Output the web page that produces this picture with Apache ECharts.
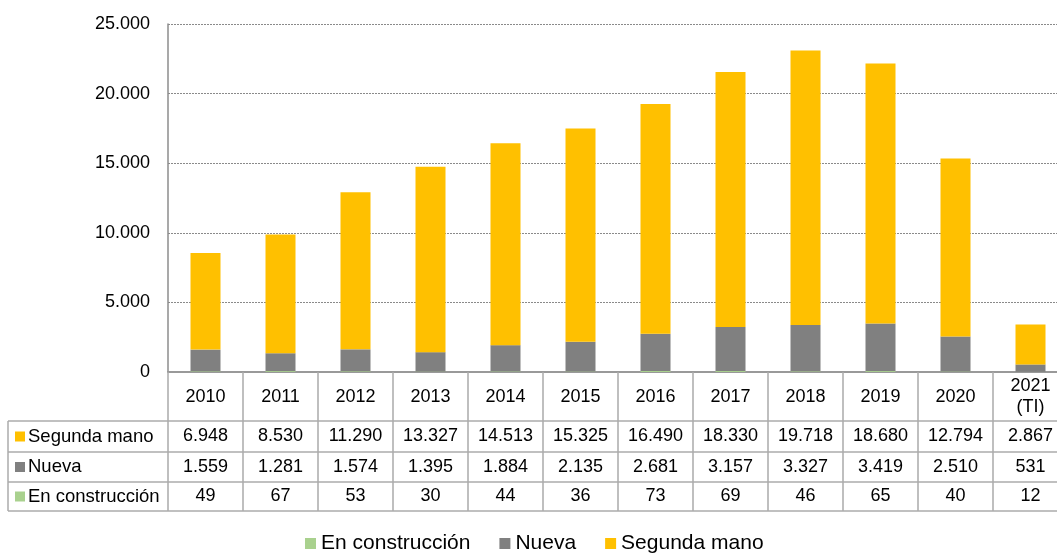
<!DOCTYPE html>
<html>
<head>
<meta charset="utf-8">
<script src="https://cdn.jsdelivr.net/npm/echarts@6/dist/echarts.min.js"></script>
<style>
  html, body { margin: 0; padding: 0; background: #fff; }
  #chart { width: 1057px; height: 554px; }
</style>
</head>
<body>
<div id="chart"></div>
<script>
var years = ['2010', '2011', '2012', '2013', '2014', '2015', '2016', '2017', '2018', '2019', '2020', '2021\n(TI)'];
var segundaMano = [6948, 8530, 11290, 13327, 14513, 15325, 16490, 18330, 19718, 18680, 12794, 2867];
var nueva = [1559, 1281, 1574, 1395, 1884, 2135, 2681, 3157, 3327, 3419, 2510, 531];
var enConstruccion = [49, 67, 53, 30, 44, 36, 73, 69, 46, 65, 40, 12];

var colors = { seg: '#ffc000', nue: '#808080', con: '#a9d18e' };
var font = "'Liberation Sans', Arial, sans-serif";
var lineCol = '#ababab';

function fmt(v) {
    return String(v).replace(/\B(?=(\d{3})+(?!\d))/g, '.');
}

var myChart = echarts.init(document.getElementById('chart'));

// filas de la tabla como ejes extra
function rowAxis(values, offset) {
    return {
        type: 'category',
        data: values.map(fmt),
        position: 'bottom',
        offset: offset,
        axisLine: { show: false },
        axisTick: { show: false },
        axisLabel: {
            interval: 0,
            margin: 0,
            fontSize: 18,
            color: '#000',
            fontFamily: font,
            verticalAlign: 'middle'
        }
    };
}

var rowsY = [421, 452, 482, 511];

var graphic = [];
rowsY.forEach(function (y) {
    graphic.push({
        type: 'line',
        shape: { x1: 8, y1: y, x2: 1070, y2: y },
        style: { stroke: lineCol, lineWidth: 1.5 }
    });
});
graphic.push({
    type: 'line',
    shape: { x1: 8, y1: 421, x2: 8, y2: 511 },
    style: { stroke: lineCol, lineWidth: 1.5 }
});
var rowNames = [['Segunda mano', colors.seg, 436.5], ['Nueva', colors.nue, 467], ['En construcción', colors.con, 496.5]];
rowNames.forEach(function (r) {
    graphic.push({
        type: 'rect',
        shape: { x: 15, y: r[2] - 5, width: 10, height: 10 },
        style: { fill: r[1] }
    });
    graphic.push({
        type: 'text',
        x: 28,
        y: r[2],
        style: { text: r[0], fontSize: 18.5, fontFamily: font, fill: '#000', verticalAlign: 'middle' }
    });
});

option = {
    backgroundColor: '#fff',
    animation: false,
    textStyle: { fontFamily: font },
    grid: { left: 168, width: 900, top: 24, bottom: 182, outerBoundsMode: 'none', containLabel: false },
    legend: {
        data: ['En construcción', 'Nueva', 'Segunda mano'],
        left: 305,
        top: 533,
        padding: 0,
        icon: 'rect',
        itemWidth: 11,
        itemHeight: 11,
        itemGap: 29,
        textStyle: { fontSize: 21, color: '#000', fontFamily: font }
    },
    xAxis: [
        {
            type: 'category',
            data: years,
            axisLine: { lineStyle: { color: '#999', width: 2 } },
            axisTick: { show: true, interval: 0, length: 139, lineStyle: { color: lineCol, width: 1.5 } },
            axisLabel: {
                interval: 0,
                margin: 25,
                fontSize: 18,
                lineHeight: 21,
                color: '#000',
                fontFamily: font,
                verticalAlign: 'middle'
            }
        },
        rowAxis(segundaMano, 64.5),
        rowAxis(nueva, 95),
        rowAxis(enConstruccion, 124.5)
    ],
    yAxis: {
        type: 'value',
        min: 0,
        max: 25000,
        interval: 5000,
        axisLine: { show: true, lineStyle: { color: '#8c8c8c', width: 1.5 } },
        axisTick: { show: false },
        axisLabel: {
            margin: 18,
            fontSize: 18,
            color: '#000',
            fontFamily: font,
            formatter: function (v) { return fmt(v); }
        },
        splitLine: { lineStyle: { color: '#8a8a8a', type: [2, 1], width: 1 } }
    },
    series: [
        {
            name: 'En construcción',
            type: 'bar',
            stack: 'total',
            barWidth: 30,
            data: enConstruccion,
            itemStyle: { color: colors.con }
        },
        {
            name: 'Nueva',
            type: 'bar',
            stack: 'total',
            barWidth: 30,
            data: nueva,
            itemStyle: { color: colors.nue }
        },
        {
            name: 'Segunda mano',
            type: 'bar',
            stack: 'total',
            barWidth: 30,
            data: segundaMano,
            itemStyle: { color: colors.seg }
        }
    ],
    graphic: graphic
};

myChart.setOption(option);
</script>
</body>
</html>
